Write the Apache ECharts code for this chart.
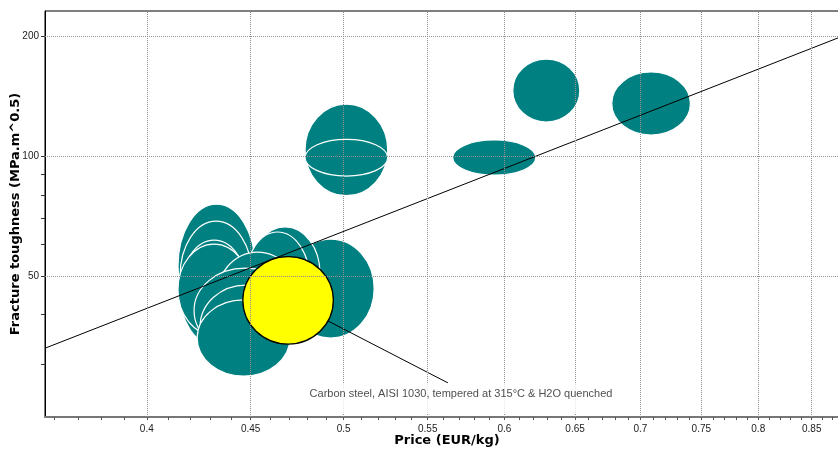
<!DOCTYPE html>
<html><head><meta charset="utf-8">
<script src="https://cdn.jsdelivr.net/npm/echarts@6/dist/echarts.min.js"></script>
<style>html,body{margin:0;padding:0;background:#fff}#c{width:838px;height:449px}</style>
</head><body><div id="c"></div>
<script>
// Material records: price range (EUR/kg) and fracture toughness range (MPa.m^0.5)
const materials = ['m1','m2','m3','m4','m5','m6','m7','m8','m9','m10','m11','m12','m13','m14','m15','m16'];
const priceLow  = [0.4690, 0.4144, 0.4154, 0.4154, 0.4144, 0.4497, 0.4472, 0.4322, 0.4220, 0.4249, 0.4235, 0.4786, 0.4786, 0.5658, 0.6057, 0.6776];
const priceHigh = [0.5176, 0.4522, 0.4507, 0.4487, 0.4497, 0.4868, 0.4813, 0.4759, 0.4738, 0.4716, 0.4705, 0.5256, 0.5256, 0.6217, 0.6535, 0.7408];
const toughLow  = [34.9, 36.9, 36.5, 33.5, 35.5, 38.7, 36.5, 32.5, 32.0, 29.3, 28.0, 79.6, 89.2, 89.7, 122.0, 113.1];
const toughHigh = [61.9, 75.8, 68.7, 61.5, 60.1, 66.4, 64.5, 57.4, 52.3, 47.4, 43.5, 135.2, 110.3, 109.9, 175.7, 163.0];

const highlightName = 'Carbon steel, AISI 1030, tempered at 315°C & H2O quenched';
const highlightPrice = [0.4460, 0.4942];
const highlightTough = [33.7, 55.9];
const labelAnchor = [0.5628, 26.9];

const trendPrice = [0.3564, 0.8767];
const trendTough = [32.89, 199.0];

const xLabelValues = [0.4, 0.45, 0.5, 0.55, 0.6, 0.65, 0.7, 0.75, 0.8, 0.85];
const xTickValues = [0.36,0.37,0.38,0.39,0.40,0.41,0.42,0.43,0.44,0.45,0.46,0.47,0.48,0.49,0.50,0.51,0.52,0.53,0.54,0.55,0.56,0.57,0.58,0.59,0.60,0.61,0.62,0.63,0.64,0.65,0.66,0.67,0.68,0.69,0.70,0.71,0.72,0.73,0.74,0.75,0.76,0.77,0.78,0.79,0.80,0.81,0.82,0.83,0.84,0.85,0.86,0.87];
const yLabelValues = [50, 100, 200];
const yTickValues = [30, 40, 50, 60, 70, 80, 90, 100, 200];

const xMin = 0.3564, xMax = 0.8767, yMin = 22.08, yMax = 232.1;

const ellipseData = materials.map((m, i) => [priceLow[i], priceHigh[i], toughLow[i], toughHigh[i]]);
const highlightData = [[highlightPrice[0], highlightPrice[1], highlightTough[0], highlightTough[1]]];
const hlCenter = [Math.sqrt(highlightPrice[0]*highlightPrice[1]), Math.sqrt(highlightTough[0]*highlightTough[1])];

function makeRender(fill, stroke, lw) {
  return function (params, api) {
    const p0 = api.coord([api.value(0), api.value(2)]);
    const p1 = api.coord([api.value(1), api.value(3)]);
    return {
      type: 'ellipse',
      shape: { cx: (p0[0]+p1[0])/2, cy: (p0[1]+p1[1])/2, rx: Math.abs(p1[0]-p0[0])/2, ry: Math.abs(p1[1]-p0[1])/2 },
      style: { fill: fill, stroke: stroke, lineWidth: lw }
    };
  };
}

const chart = echarts.init(document.getElementById('c'), null, { renderer: 'canvas' });
const tickFont = { fontFamily: 'Liberation Sans', fontSize: 10, color: '#222' };
const gridLine = { type: [1, 1], color: '#909090', width: 1 };

chart.setOption({
  animation: false,
  grid: { left: 45, right: -1, top: 11, bottom: 32, containLabel: false, outerBoundsMode: 'none', show: true, borderColor: '#000', borderWidth: 1, backgroundColor: 'transparent' },
  xAxis: {
    type: 'log', min: xMin, max: xMax,
    name: 'Price (EUR/kg)', nameLocation: 'middle', nameGap: 17, nameMoveOverlap: false,
    nameTextStyle: { fontFamily: 'DejaVu Sans', fontWeight: 'bold', fontSize: 13, color: '#000', padding: [0, 0, 0, 10] },
    axisLine: { show: true, lineStyle: { color: '#777', width: 2 } },
    axisTick: { show: true, length: 3, inside: false, customValues: xTickValues, lineStyle: { color: '#555' } },
    axisLabel: Object.assign({ customValues: xLabelValues, margin: 7, formatter: v => String(+v.toFixed(2)) }, tickFont),
    splitLine: { show: false }, minorTick: { show: false }
  },
  yAxis: {
    type: 'log', min: yMin, max: yMax,
    name: 'Fracture toughness (MPa.m^0.5)', nameLocation: 'middle', nameGap: 23, nameMoveOverlap: false,
    nameTextStyle: { fontFamily: 'DejaVu Sans', fontWeight: 'bold', fontSize: 13, color: '#000' },
    axisLine: { show: true, lineStyle: { color: '#000', width: 1 } },
    axisTick: { show: true, length: 4, inside: false, customValues: yTickValues, lineStyle: { color: '#333' } },
    axisLabel: Object.assign({ customValues: yLabelValues, margin: 6, formatter: v => String(Math.round(v)) }, tickFont),
    splitLine: { show: false }
  },
  series: [
    {
      type: 'line', data: [], z: 1, silent: true,
      markLine: {
        silent: true, symbol: 'none', label: { show: false }, animation: false,
        lineStyle: gridLine,
        data: xLabelValues.map(v => ({ xAxis: v })).concat(yLabelValues.map(v => ({ yAxis: v })))
      }
    },
    {
      type: 'custom', z: 2, data: ellipseData, clip: true,
      encode: { x: [0, 1], y: [2, 3] },
      renderItem: makeRender('#008080', '#ffffff', 1.2)
    },
    {
      type: 'line', z: 3, data: trendPrice.map((p, i) => [p, trendTough[i]]),
      symbol: 'none', lineStyle: { color: '#000', width: 1 }, silent: true
    },
    {
      type: 'line', z: 3, data: [hlCenter, labelAnchor],
      symbol: 'none', lineStyle: { color: '#000', width: 1 }, silent: true
    },
    {
      type: 'custom', z: 4, data: highlightData, clip: true,
      encode: { x: [0, 1], y: [2, 3] },
      renderItem: makeRender('#ffff00', '#000000', 1.3)
    },
    {
      type: 'scatter', z: 5, data: [labelAnchor], symbolSize: 0,
      label: {
        show: true, formatter: highlightName, position: 'bottom', distance: 0, offset: [13, 0],
        backgroundColor: '#fff', padding: [6, 6, 13, 6],
        fontFamily: 'Liberation Sans', fontSize: 11, color: '#222'
      }
    }
  ]
});
</script>
</body></html>
